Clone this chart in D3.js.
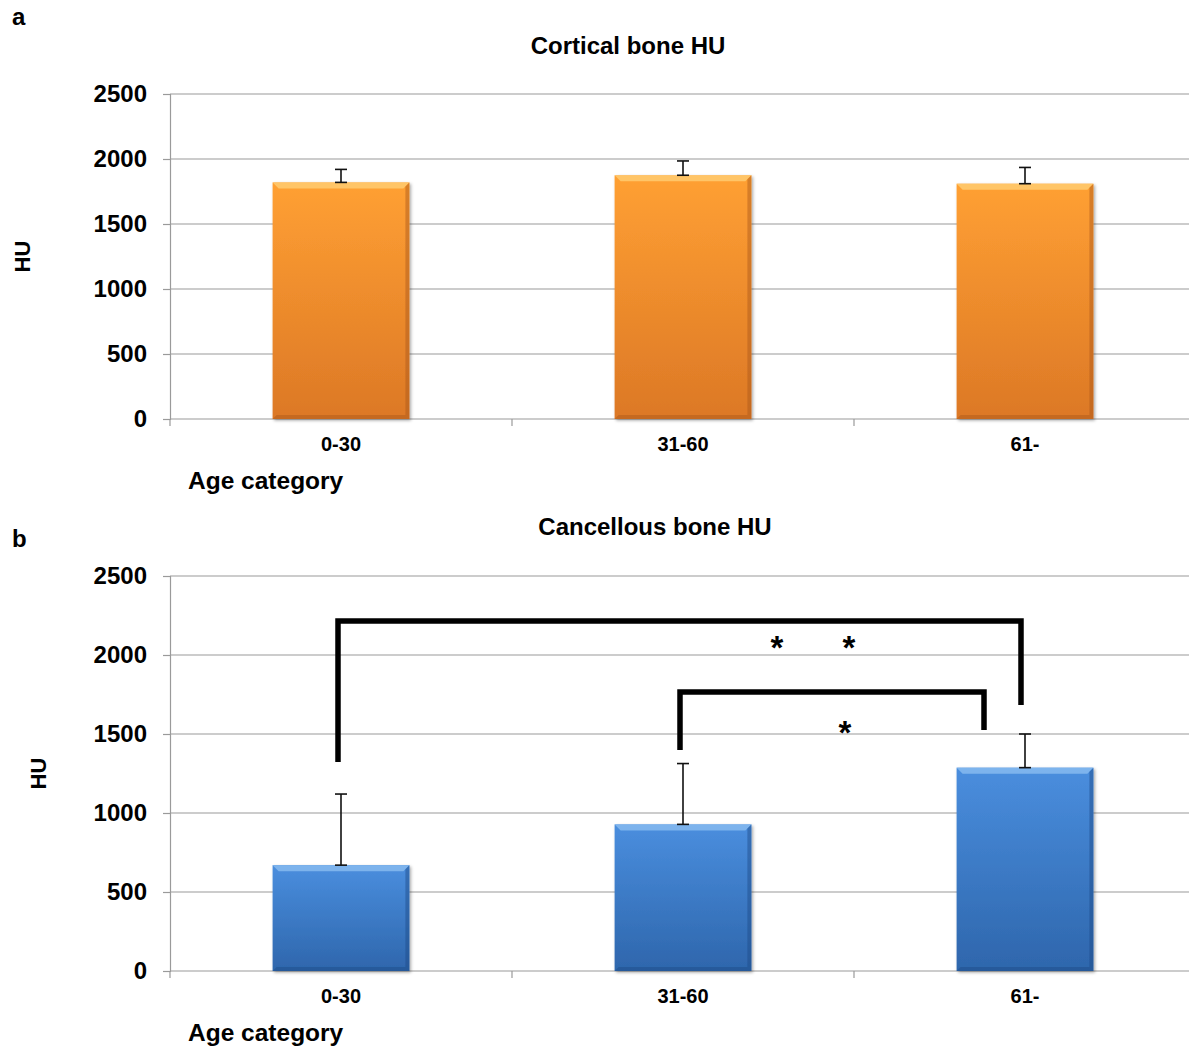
<!DOCTYPE html>
<html>
<head>
<meta charset="utf-8">
<script src="https://cdn.jsdelivr.net/npm/d3@7"></script>
<style>
  body { margin: 0; background: #fff; }
  svg { display: block; font-family: "Liberation Sans", Arial, sans-serif; font-weight: bold; }
</style>
</head>
<body>
<svg id="chart" width="1189" height="1048"></svg>
<script>
// Age groups shared by both panels
const categories = ["0-30", "31-60", "61-"];
const yTicks = [0, 500, 1000, 1500, 2000, 2500];

// Panel a: cortical bone, mean HU and upper SD
const corticalMean = [1820, 1875, 1810];
const corticalSD = [100, 110, 125];

// Panel b: cancellous bone, mean HU and upper SD
const cancellousMean = [670, 928, 1287];
const cancellousSD = [450, 385, 213];

// Significance brackets for panel b (HU of bar, HU where each leg ends)
const bracketFrom = ["0-30", "31-60"];
const bracketTo = ["61-", "61-"];
const bracketTop = [2215, 1766];
const bracketLeftEnd = [1323, 1399];
const bracketRightEnd = [1684, 1525];
// asterisk rows (HU level of their centre)
const starLevel = [2076, 1544];

const svg = d3.select("#chart");
const defs = svg.append("defs");

function gradient(id, top, bottom) {
  const g = defs.append("linearGradient").attr("id", id)
    .attr("x1", 0).attr("y1", 0).attr("x2", 0).attr("y2", 1);
  g.append("stop").attr("offset", "0%").attr("stop-color", top);
  g.append("stop").attr("offset", "100%").attr("stop-color", bottom);
}
gradient("gOrange", "#FFA033", "#DC7826");
gradient("gBlue", "#4A8EDE", "#2E66AC");

const shadow = defs.append("filter").attr("id", "shadow")
  .attr("x", "-10%").attr("y", "-10%").attr("width", "130%").attr("height", "130%");
shadow.append("feDropShadow").attr("dx", 1.5).attr("dy", 1.5).attr("stdDeviation", 1.5)
  .attr("flood-color", "#000").attr("flood-opacity", 0.35);

function panel(opts) {
  const g = svg.append("g");
  const x = d3.scaleBand().domain(categories).range([170, 1196]).paddingInner(0.6).paddingOuter(0.3);
  const xt = d3.scaleBand().domain(categories).range([170, 1196]);
  const y = d3.scaleLinear().domain([0, 2500]).range([opts.y0, opts.y1]);

  // horizontal gridlines
  g.selectAll(".grid").data(yTicks.slice(1)).join("line")
    .attr("x1", 170).attr("x2", 1189)
    .attr("y1", d => y(d)).attr("y2", d => y(d))
    .attr("stroke", "#9a9a9a").attr("stroke-width", 1.2);

  // y axis
  const ya = g.append("g").attr("transform", "translate(170,0)")
    .call(d3.axisLeft(y).tickValues(yTicks).tickSize(7).tickPadding(16).tickFormat(d3.format("d")));
  ya.select(".domain").attr("stroke", "#9a9a9a").attr("stroke-width", 1.2);
  ya.selectAll(".tick line").attr("stroke", "#9a9a9a").attr("stroke-width", 1.2);
  ya.selectAll("text").attr("font-size", 24).attr("font-weight", "bold").attr("fill", "#000")
    .attr("font-family", "Liberation Sans, Arial, sans-serif");

  // x axis with boundary ticks between categories
  g.append("line").attr("x1", 170).attr("x2", 1196).attr("y1", y(0)).attr("y2", y(0))
    .attr("stroke", "#9a9a9a").attr("stroke-width", 1.2);
  const edges = categories.map(c => xt(c)).concat([xt(categories[2]) + xt.bandwidth()]);
  g.selectAll(".xtick").data(edges).join("line")
    .attr("x1", d => d).attr("x2", d => d).attr("y1", y(0)).attr("y2", y(0) + 7)
    .attr("stroke", "#9a9a9a").attr("stroke-width", 1.2);
  g.selectAll(".xlabel").data(categories).join("text")
    .attr("x", d => xt(d) + xt.bandwidth() / 2)
    .attr("y", y(0) + 32)
    .attr("text-anchor", "middle").attr("font-size", 20).text(d => d);

  // bars
  const bars = g.selectAll(".bar").data(categories).join("g");
  bars.append("rect")
    .attr("x", d => x(d)).attr("width", x.bandwidth())
    .attr("y", (d, i) => y(opts.mean[i]))
    .attr("height", (d, i) => y(0) - y(opts.mean[i]))
    .attr("fill", `url(#${opts.grad})`).attr("filter", "url(#shadow)");
  // bevel highlight along the top edge
  bars.append("path")
    .attr("d", (d, i) => {
      const x0 = x(d), x1 = x(d) + x.bandwidth(), t = y(opts.mean[i]), b = 6;
      return `M${x0},${t}L${x1},${t}L${x1 - b},${t + b}L${x0 + b},${t + b}Z`;
    })
    .attr("fill", opts.bevel).attr("opacity", 0.75);
  // darker bevel on the sides and bottom
  bars.append("path")
    .attr("d", (d, i) => {
      const x0 = x(d), x1 = x(d) + x.bandwidth(), t = y(opts.mean[i]), bt = y(0), b = 4;
      return `M${x1},${t}L${x1},${bt}L${x0},${bt}L${x0 + b},${bt - b}L${x1 - b},${bt - b}L${x1 - b},${t + b}Z`;
    })
    .attr("fill", opts.edge).attr("opacity", 0.45);

  // upper error bars
  const err = g.selectAll(".err").data(categories).join("g")
    .attr("stroke", "#111").attr("stroke-width", 1.6);
  err.append("line")
    .attr("x1", d => x(d) + x.bandwidth() / 2).attr("x2", d => x(d) + x.bandwidth() / 2)
    .attr("y1", (d, i) => y(opts.mean[i])).attr("y2", (d, i) => y(opts.mean[i] + opts.sd[i]));
  [0, 1].forEach(k => {
    err.append("line")
      .attr("x1", d => x(d) + x.bandwidth() / 2 - 6).attr("x2", d => x(d) + x.bandwidth() / 2 + 6)
      .attr("y1", (d, i) => y(opts.mean[i] + (k ? opts.sd[i] : 0)))
      .attr("y2", (d, i) => y(opts.mean[i] + (k ? opts.sd[i] : 0)));
  });

  // titles and labels
  svg.append("text").attr("x", 12).attr("y", opts.letterY).attr("font-size", 24).text(opts.letter);
  svg.append("text").attr("x", opts.titleX).attr("y", opts.titleY)
    .attr("text-anchor", "middle").attr("font-size", 24).text(opts.title);
  svg.append("text")
    .attr("transform", `translate(${opts.hux},${(opts.y0 + opts.y1) / 2}) rotate(-90)`)
    .attr("text-anchor", "middle").attr("font-size", 22).text("HU");
  svg.append("text").attr("x", 188).attr("y", y(0) + 70).attr("font-size", 24.5).text("Age category");

  return { x, y, g };
}

panel({
  y0: 419, y1: 94, mean: corticalMean, sd: corticalSD,
  grad: "gOrange", bevel: "#FFD27A", edge: "#A8561A",
  letter: "a", letterY: 25, title: "Cortical bone HU", titleX: 628, titleY: 54, hux: 30
});

const pb = panel({
  y0: 971, y1: 576, mean: cancellousMean, sd: cancellousSD,
  grad: "gBlue", bevel: "#8FC0F2", edge: "#1D4A85",
  letter: "b", letterY: 547, title: "Cancellous bone HU", titleX: 655, titleY: 535, hux: 46
});

// significance brackets
const legX = [[-3, -4], [-3, -41]];
bracketFrom.forEach((from, i) => {
  const xs = pb.x, y = pb.y;
  const xa = xs(from) + xs.bandwidth() / 2 + legX[i][0];
  const xb = xs(bracketTo[i]) + xs.bandwidth() / 2 + legX[i][1];
  pb.g.append("path")
    .attr("d", `M${xa},${y(bracketLeftEnd[i])}V${y(bracketTop[i])}H${xb}V${y(bracketRightEnd[i])}`)
    .attr("fill", "none").attr("stroke", "#000").attr("stroke-width", 5.5);
});
// asterisks
const starPos = [[777, 849], [845]];
const starSize = 33;
starPos.forEach((xsArr, i) => {
  xsArr.forEach(sx => {
    pb.g.append("text").attr("x", sx).attr("y", pb.y(starLevel[i]) + starSize * 0.5)
      .attr("text-anchor", "middle").attr("font-size", starSize).text("*");
  });
});
</script>
</body>
</html>
